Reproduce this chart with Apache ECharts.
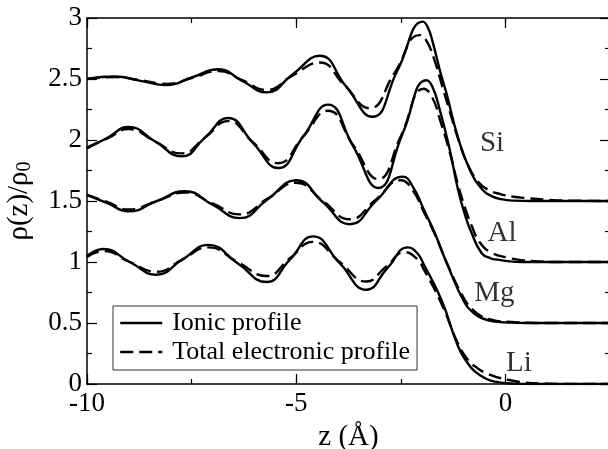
<!DOCTYPE html>
<html><head><meta charset="utf-8">
<script src="https://cdn.jsdelivr.net/npm/echarts@6/dist/echarts.min.js"></script>
<style>html,body{margin:0;padding:0;background:#fff}#c{width:608px;height:449px}</style>
</head><body><div id="c"></div>
<script>
// ---- data (z in Å, rho/rho0) ----
const siIonic = [[-10,2.50],[-9.33,2.52],[-8.72,2.485],[-8.1,2.45],[-7.48,2.515],[-6.86,2.58],[-6.29,2.485],[-5.71,2.39],[-5.08,2.54],[-4.44,2.69],[-3.81,2.44],[-3.18,2.19],[-2.58,2.57],[-1.97,2.97],[-1.85,2.92],[-1.72,2.78],[-1.55,2.55],[-1.41,2.385],[-1.14,2.03],[-0.85,1.756],[-0.54,1.59],[-0.33,1.54],[-0.1,1.515],[0.2,1.503],[0.6,1.5],[2.5,1.5]];
const siElec = [[-10,2.50],[-9.33,2.515],[-8.72,2.49],[-8.1,2.46],[-7.48,2.51],[-6.86,2.565],[-6.29,2.49],[-5.71,2.41],[-5.08,2.53],[-4.44,2.635],[-3.85,2.45],[-3.25,2.26],[-2.65,2.55],[-2.05,2.86],[-1.9,2.82],[-1.72,2.68],[-1.5,2.43],[-1.3,2.2],[-1.14,2.02],[-0.9,1.8],[-0.66,1.66],[-0.4,1.59],[-0.1,1.555],[0.2,1.535],[0.46,1.525],[1.0,1.51],[1.5,1.503],[2.5,1.5]];
const alIonic = [[-10,1.93],[-9.5,2.02],[-9.01,2.107],[-8.38,1.99],[-7.74,1.866],[-7.18,2.02],[-6.63,2.18],[-6.03,1.975],[-5.43,1.77],[-4.83,2.03],[-4.24,2.29],[-3.64,1.95],[-3.04,1.607],[-2.46,2.05],[-1.89,2.49],[-1.75,2.44],[-1.57,2.25],[-1.33,1.92],[-1.13,1.59],[-0.95,1.37],[-0.81,1.24],[-0.57,1.074],[-0.35,1.03],[-0.18,1.019],[0.1,1.005],[0.4,1.0],[2.5,1.0]];
const alElec = [[-10,1.94],[-9.5,2.015],[-9.01,2.09],[-8.38,1.99],[-7.74,1.89],[-7.18,2.02],[-6.63,2.155],[-6.03,1.98],[-5.43,1.81],[-4.83,2.03],[-4.24,2.24],[-3.64,1.96],[-3.04,1.68],[-2.5,2.03],[-1.95,2.42],[-1.75,2.35],[-1.55,2.15],[-1.33,1.90],[-1.13,1.63],[-0.95,1.43],[-0.81,1.30],[-0.61,1.16],[-0.35,1.08],[0.06,1.035],[0.4,1.015],[0.8,1.005],[1.2,1.0],[2.5,1.0]];
const mgIonic = [[-10,1.55],[-9.5,1.48],[-9.01,1.415],[-8.33,1.50],[-7.66,1.58],[-7.0,1.47],[-6.35,1.36],[-5.68,1.515],[-5.0,1.67],[-4.36,1.49],[-3.72,1.31],[-3.08,1.505],[-2.45,1.70],[-2.2,1.61],[-1.95,1.43],[-1.69,1.24],[-1.37,0.964],[-0.97,0.664],[-0.75,0.58],[-0.57,0.54],[-0.25,0.512],[0.06,0.504],[0.5,0.5],[2.5,0.5]];
const mgElec = [[-10,1.55],[-9.5,1.49],[-9.01,1.43],[-8.33,1.50],[-7.66,1.57],[-7.0,1.48],[-6.35,1.39],[-5.68,1.52],[-5.0,1.65],[-4.36,1.50],[-3.72,1.35],[-3.1,1.51],[-2.5,1.67],[-2.2,1.58],[-1.95,1.41],[-1.69,1.23],[-1.37,0.97],[-0.97,0.69],[-0.75,0.60],[-0.57,0.555],[-0.25,0.52],[0.06,0.51],[0.5,0.503],[1.0,0.5],[2.5,0.5]];
const liIonic = [[-10,1.05],[-9.61,1.107],[-8.98,1.0],[-8.34,0.896],[-7.72,1.02],[-7.10,1.14],[-6.4,0.99],[-5.71,0.836],[-5.15,1.02],[-4.6,1.21],[-3.96,0.99],[-3.32,0.773],[-2.82,0.95],[-2.33,1.12],[-2.1,1.07],[-1.95,0.98],[-1.53,0.69],[-1.13,0.308],[-0.9,0.17],[-0.73,0.103],[-0.5,0.05],[-0.26,0.02],[0.2,0.003],[0.6,0],[2.5,0]];
const liElec = [[-10,1.04],[-9.61,1.09],[-8.98,1.0],[-8.34,0.92],[-7.72,1.02],[-7.10,1.12],[-6.4,1.0],[-5.71,0.885],[-5.15,1.03],[-4.6,1.165],[-3.96,1.0],[-3.32,0.84],[-2.86,0.96],[-2.4,1.08],[-2.1,1.02],[-1.95,0.94],[-1.53,0.66],[-1.13,0.33],[-0.9,0.2],[-0.73,0.145],[-0.4,0.08],[0.06,0.035],[0.46,0.012],[1.0,0.003],[1.5,0],[2.5,0]];
const elementLabels = ['Si','Al','Mg','Li'];
const labelAnchors = [[-0.32,1.97],[-0.08,1.235],[-0.265,0.745],[0.325,0.165]];
const seriesNames = ['Ionic profile','Total electronic profile'];

const FF = 'Liberation Serif';
const chart = echarts.init(document.getElementById('c'), null, {renderer:'canvas'});

function lineSeries(name, data, dashed) {
  return {
    name: name, type: 'line', data: data, xAxisIndex: 0, yAxisIndex: 0,
    symbol: 'none', showSymbol:false, smooth: 0.5, silent: true, animation: false,
    itemStyle:{color:'#000'},
    lineStyle: {color:'#000', width: 2.4, type: dashed ? [13,6] : 'solid'}
  };
}
function xAx(pos, interval, len, showLine, showLabel, extra) {
  return Object.assign({
    type:'value', position: pos, min:-10, max:2.5, interval: interval,
    axisLine:{show:showLine, onZero:false, lineStyle:{color:'#000', width:1.5}},
    axisTick:{show:true, inside:true, length:len, lineStyle:{color:'#000', width:1.2}},
    axisLabel:{show:showLabel, fontFamily:FF, fontSize:27, color:'#000', margin:6, showMaxLabel:false},
    splitLine:{show:false}, minorTick:{show:false}
  }, extra || {});
}
function yAx(pos, showLabel, extra) {
  return Object.assign({
    type:'value', position: pos, min:0, max:3, interval:0.5,
    axisLine:{show:true, onZero:false, lineStyle:{color:'#000', width:1.5}},
    axisTick:{show:true, inside:true, length:10, lineStyle:{color:'#000', width:1.2}},
    minorTick:{show:true, splitNumber:2, length:5, lineStyle:{color:'#000', width:1.2}},
    axisLabel:{show:showLabel, fontFamily:FF, fontSize:27, color:'#000', margin:5,
      formatter: v => String(v)},
    splitLine:{show:false}
  }, extra || {});
}

const option = {
  animation:false,
  backgroundColor:'#fff',
  grid:{left:87, right:-2, top:18, bottom:65, containLabel:false, outerBoundsMode:'none'},
  xAxis:[
    xAx('bottom',5,10,true,true,{name:'z (Å)', nameLocation:'middle', nameGap:39,
      nameTextStyle:{fontFamily:FF, fontSize:29, color:'#000'}}),
    xAx('bottom',2.5,5,false,false),
    xAx('top',5,10,true,false),
    xAx('top',2.5,5,false,false)
  ],
  yAxis:[
    yAx('left',true,{name:'{a|ρ(z)/ρ}{b|0}', nameLocation:'middle', nameGap:52, nameRotate:90,
      nameTextStyle:{fontFamily:FF, fontSize:29, color:'#000',
        rich:{a:{fontFamily:FF, fontSize:29, color:'#000'}, b:{fontFamily:FF, fontSize:20, color:'#000', padding:[12,0,0,0]}}}}),
    yAx('right',false)
  ],
  legend:{
    data: seriesNames, orient:'vertical', left:113, top:306,
    itemWidth:42, itemHeight:14, itemGap:3, padding:[4,7,5,6],
    borderColor:'#333', borderWidth:1, selectedMode:false,
    itemStyle:{opacity:0},
    lineStyle:{color:'#000', width:2.4},
    textStyle:{fontFamily:FF, fontSize:26, color:'#000', padding:[0,0,0,5]}
  },
  series:[
    lineSeries(seriesNames[0], siIonic, false),
    lineSeries(seriesNames[1], siElec, true),
    lineSeries(seriesNames[0], alIonic, false),
    lineSeries(seriesNames[1], alElec, true),
    lineSeries(seriesNames[0], mgIonic, false),
    lineSeries(seriesNames[1], mgElec, true),
    lineSeries(seriesNames[0], liIonic, false),
    lineSeries(seriesNames[1], liElec, true),
    {
      name:'labels', type:'scatter', symbolSize:0, silent:true, animation:false,
      data: elementLabels.map((n,i)=>({name:n, value:labelAnchors[i]})),
      label:{show:true, position:'inside', formatter: p => p.name,
        fontFamily:FF, fontSize:29, color:'#000'}
    }
  ]
};
chart.setOption(option);
</script>
</body></html>
